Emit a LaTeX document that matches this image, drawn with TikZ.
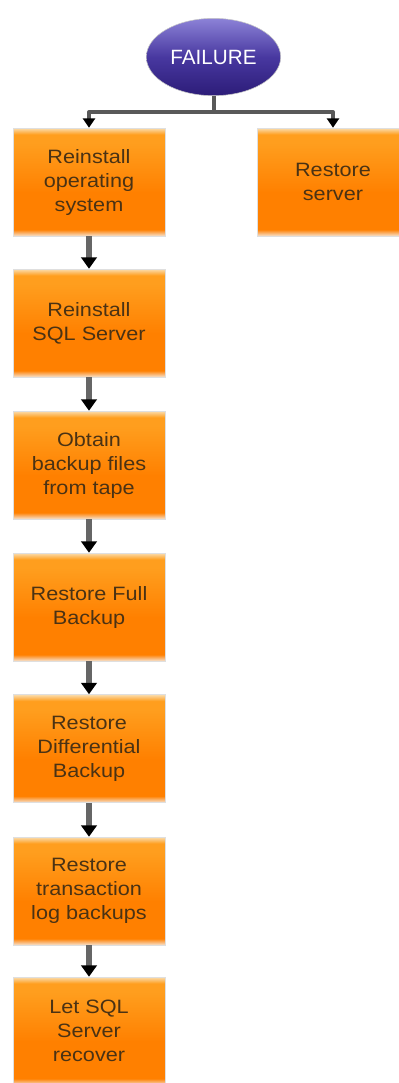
\documentclass[tikz,border=0pt]{standalone}
\usepackage{fontspec}
\setmainfont{Liberation Sans}
\newfontfamily\boxfont[FakeStretch=1.12]{Liberation Sans}
\usepackage{tikz}
\usetikzlibrary{arrows.meta,shapes.geometric}

\definecolor{obot}{RGB}{246,226,208}
\definecolor{odeep}{RGB}{255,128,0}
\definecolor{omid}{RGB}{255,158,30}
\definecolor{otop}{RGB}{250,222,176}
\definecolor{otext}{RGB}{74,50,20}
\definecolor{ftop}{RGB}{140,130,215}
\definecolor{fmid}{RGB}{72,56,160}
\definecolor{fbot}{RGB}{44,28,120}
\pgfdeclareverticalshading{boxfill}{100bp}{color(0bp)=(obot); color(25bp)=(obot); color(28bp)=(odeep); color(45bp)=(odeep); color(68bp)=(omid); color(72bp)=(omid); color(75bp)=(otop); color(100bp)=(otop)}

\tikzset{
  stepbox/.style={rectangle, shading=boxfill, draw=gray!25, line width=0.4pt,
    minimum width=114pt, minimum height=81pt, align=center, text=otext,
    font=\boxfont\fontsize{14.5}{18}\selectfont},
  failnode/.style={ellipse, top color=ftop, bottom color=fbot, middle color=fmid,
    draw=gray!45, minimum width=92pt, minimum height=58pt, text=white,
    font=\fontsize{15.5}{18}\selectfont},
  flow/.style={draw=black!60, line width=4pt, -{Triangle[black, width=11.5pt, length=8.5pt]}},
  bus/.style={draw=black!65, line width=3pt},
  busarrow/.style={draw=black!65, line width=3pt, -{Triangle[black, width=9pt, length=7pt]}}
}

\begin{document}
\begin{tikzpicture}[x=0.75pt,y=0.75pt,yscale=-1,xscale=1]
\useasboundingbox (0,0) rectangle (399,1083);
\clip (0,0) rectangle (399,1083);

% Failure
\node [failnode] (fail) at (213.5,57) {FAILURE};

% Steps
\node [stepbox] (os) at (89,182) {Reinstall\\operating\\system};
\node [stepbox] (srv) at (333,182) {Restore\\server};
\node [stepbox] (sql) at (89,323) {Reinstall\\SQL Server};
\node [stepbox] (tape) at (89,465) {Obtain\\backup files\\from tape};
\node [stepbox] (full) at (89,607) {Restore Full\\Backup};
\node [stepbox] (diff) at (89,748.5) {Restore\\Differential\\Backup};
\node [stepbox] (tlog) at (89,891) {Restore\\transaction\\log backups};
\node [stepbox] (rec) at (89,1031) {Let SQL\\Server\\recover};

% Bus
\coordinate (busmid) at (213.5,112);
\coordinate (busl) at (89,112);
\coordinate (busr) at (333,112);
\draw [bus] (fail.south) -- (busmid);
\draw [bus, line cap=round] (busl) -- (busr);
\draw [busarrow] (busl) -- (os.north);
\draw [busarrow] (busr) -- (srv.north);

% Flow
\draw [flow] (os) -- (sql);
\draw [flow] (sql) -- (tape);
\draw [flow] (tape) -- (full);
\draw [flow] (full) -- (diff);
\draw [flow] (diff) -- (tlog);
\draw [flow] (tlog) -- (rec);
\end{tikzpicture}
\end{document}
